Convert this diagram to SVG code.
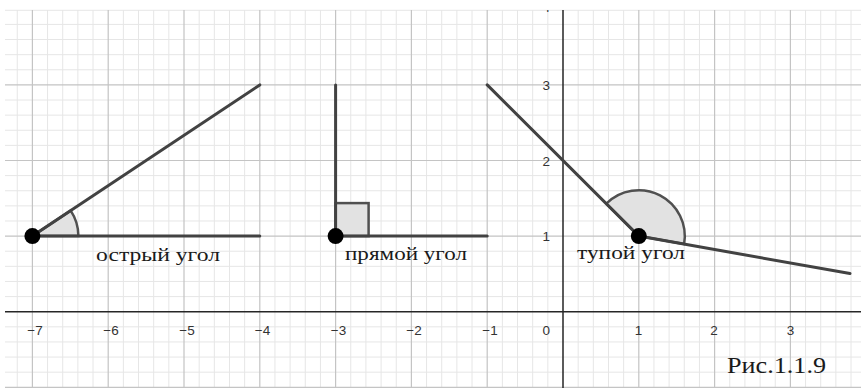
<svg xmlns="http://www.w3.org/2000/svg" width="861" height="388" viewBox="0 0 861 388">
<style>
.minor{stroke:#e6e6e6;stroke-width:1;fill:none}
.major{stroke:#c4c4c4;stroke-width:1.2;fill:none}
.axis{stroke:#262626;stroke-width:1.5;fill:none}
.ray{stroke:#424242;stroke-width:3;stroke-linecap:round;fill:none}
.ang{fill:#e2e2e2;stroke:#505050;stroke-width:2.5}
.pt{fill:#000}
.num{font-family:"Liberation Sans",Arial,sans-serif;font-size:13.5px;fill:#333}
.lbl{font-family:"Liberation Serif","Times New Roman",serif;font-size:19px;fill:#1a1a1a}
</style>
<defs>
<clipPath id="gridclip"><rect x="5" y="10" width="856" height="378"/></clipPath>
</defs>
<rect width="861" height="388" fill="#fff"/>
<g id="grid">
<path class="minor" d="M17.24 10V388M47.56 10V388M62.72 10V388M77.88 10V388M93.04 10V388M123.36 10V388M138.52 10V388M153.68 10V388M168.84 10V388M199.16 10V388M214.32 10V388M229.48 10V388M244.64 10V388M274.96 10V388M290.12 10V388M305.28 10V388M320.44 10V388M350.76 10V388M365.92 10V388M381.08 10V388M396.24 10V388M426.56 10V388M441.72 10V388M456.88 10V388M472.04 10V388M502.36 10V388M517.52 10V388M532.68 10V388M547.84 10V388M578.16 10V388M593.32 10V388M608.48 10V388M623.64 10V388M653.96 10V388M669.12 10V388M684.28 10V388M699.44 10V388M729.76 10V388M744.92 10V388M760.08 10V388M775.24 10V388M805.56 10V388M820.72 10V388M835.88 10V388M851.04 10V388"/>
<path class="minor" d="M5 10.3H861M5 24.42H861M5 39.54H861M5 54.66H861M5 69.78H861M5 100.02H861M5 115.14H861M5 130.26H861M5 145.38H861M5 175.62H861M5 190.74H861M5 205.86H861M5 220.98H861M5 251.22H861M5 266.34H861M5 281.46H861M5 296.58H861M5 326.82H861M5 341.94H861M5 357.06H861M5 372.18H861"/>
<path class="major" d="M32.4 10V388M108.2 10V388M184 10V388M259.8 10V388M335.6 10V388M411.4 10V388M487.2 10V388M638.8 10V388M714.6 10V388M790.4 10V388M5 84.9H861M5 160.5H861M5 236.1H861M5 387.3H861"/>
<path class="axis" d="M5 311.7H861M563 10V388"/>
</g>
<g id="axis-labels">
<text class="num" x="35" y="334.5" text-anchor="middle">−7</text>
<text class="num" x="111" y="334.5" text-anchor="middle">−6</text>
<text class="num" x="187" y="334.5" text-anchor="middle">−5</text>
<text class="num" x="262.5" y="334.5" text-anchor="middle">−4</text>
<text class="num" x="338.5" y="334.5" text-anchor="middle">−3</text>
<text class="num" x="414" y="334.5" text-anchor="middle">−2</text>
<text class="num" x="490" y="334.5" text-anchor="middle">−1</text>
<text class="num" x="550" y="334.5" text-anchor="end">0</text>
<text class="num" x="638.5" y="334.5" text-anchor="middle">1</text>
<text class="num" x="714" y="334.5" text-anchor="middle">2</text>
<text class="num" x="790.5" y="334.5" text-anchor="middle">3</text>
<text class="num" x="550" y="90" text-anchor="end">3</text>
<text class="num" x="550" y="165.5" text-anchor="end">2</text>
<text class="num" x="550" y="241" text-anchor="end">1</text>
<text class="num" x="550" y="397" text-anchor="end">−1</text>
<text class="num" x="550" y="12" text-anchor="end" clip-path="url(#gridclip)">4</text>
</g>
<g id="connectors">
<path class="ang" d="M32.4 236.1L78.4 236.1A46 46 0 0 0 70.7 210.6Z"/>
<rect class="ang" x="335.6" y="203.1" width="33" height="33"/>
<path class="ang" d="M638.8 236.1L606.3 203.6A46 46 0 0 1 684.1 244.1Z"/>
<path class="ray" d="M32.4 236.1L259.8 84.9M32.4 236.1H259.8"/>
<path class="ray" d="M335.6 236.1V84.9M335.6 236.1H487.2"/>
<path class="ray" d="M638.8 236.1L487.2 84.9M638.8 236.1L850 273.5"/>
</g>
<g id="node-acute">
<circle class="pt" cx="32.4" cy="236.1" r="8"/>
<text class="lbl" x="96" y="261" textLength="124" lengthAdjust="spacingAndGlyphs">острый угол</text>
</g>
<g id="node-right">
<circle class="pt" cx="335.6" cy="236.1" r="8"/>
<text class="lbl" x="345" y="260" textLength="122" lengthAdjust="spacingAndGlyphs">прямой угол</text>
</g>
<g id="node-obtuse">
<circle class="pt" cx="638.8" cy="236.1" r="8"/>
<text class="lbl" x="577" y="259" textLength="108" lengthAdjust="spacingAndGlyphs">тупой угол</text>
</g>
<g id="caption">
<text class="lbl" x="727" y="373" textLength="99" lengthAdjust="spacingAndGlyphs" style="font-size:24px">Рис.1.1.9</text>
</g>
</svg>
